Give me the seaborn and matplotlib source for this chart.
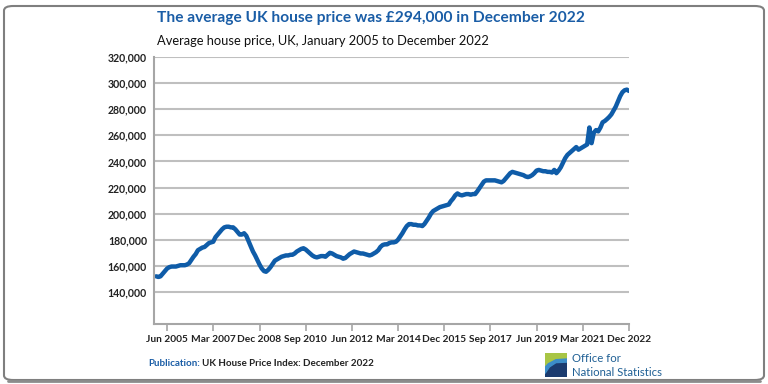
import seaborn as sns
import matplotlib.pyplot as plt
import matplotlib.patches as mpatches
import pandas as pd
import numpy as np


# average UK house price, thousands of pounds, Jan 2005 - Dec 2022 (one row per year)
prices_k = [
    152, 151.5, 152, 154, 156, 158, 159, 159.5, 159.5, 159.5, 160, 160.5,
    160.5, 160.5, 161, 162, 164.5, 167, 169, 172, 173, 174, 174.5, 176,
    177.5, 178, 178.5, 182, 184, 186, 188, 189.5, 190, 190, 189.5, 189.5,
    188, 186, 184, 184, 185, 183, 179, 175, 171, 168, 164.5, 161,
    158, 156, 155.5, 157, 159, 161.5, 164, 165, 166, 167, 167.5, 168,
    168, 168.5, 168.5, 169.5, 171, 172, 173, 173.5, 172.5, 171, 169.5, 168,
    167, 166.5, 167, 167.5, 167.5, 167, 168.5, 170, 169.5, 168.5, 167.5, 167,
    166.5, 165.5, 166, 167.5, 169, 170, 171, 170.5, 170, 169.5, 169.5, 169,
    168.5, 168, 168.5, 169.5, 170.5, 172, 174.5, 176, 176.5, 176.5, 177.5, 178,
    178, 178.5, 180, 182.5, 185, 188, 190.5, 192, 192, 191.5, 191.5, 191,
    191, 190.5, 192, 194.5, 197, 200, 202, 203, 204, 205, 205.5, 206,
    206.5, 207, 209.5, 211.5, 214, 215.5, 214.5, 214, 214.5, 215, 215, 214.5,
    215, 215, 217, 219.5, 222, 224.5, 225.5, 225.5, 225.5, 225.5, 225.5, 225,
    224.5, 224, 225, 227, 229, 231, 232, 231.5, 231, 230.5, 230, 229.5,
    228.5, 228, 228.5, 229.5, 231, 233, 233.5, 233, 232.5, 232.5, 232, 232,
    231.5, 233.5, 231, 233, 235.5, 239, 242.5, 245, 246.5, 248, 249.5, 251,
    249, 250, 251, 252, 253, 266, 254, 262, 264, 263, 266, 270,
    271, 272.5, 274, 276, 279, 282, 286, 290, 293, 294.5, 295, 294,
]
start_month = "2005-01"
tick_labels = ["Jun 2005", "Mar 2007", "Dec 2008", "Sep 2010", "Jun 2012", "Mar 2014",
               "Dec 2015", "Sep 2017", "Jun 2019", "Mar 2021", "Dec 2022"]
y_ticks = [140000, 160000, 180000, 200000, 220000, 240000, 260000, 280000, 300000, 320000]

title = "The average UK house price was £294,000 in December 2022"
subtitle = "Average house price, UK, January 2005 to December 2022"

ONS_BLUE = "#1A5DA6"
LINE_BLUE = "#0F5CA8"
GRID = "#BFBFBF"
AXIS = "#A6A6A6"

df = pd.DataFrame({
    "month": pd.date_range(start_month, periods=len(prices_k), freq="MS"),
    "price": np.array(prices_k) * 1000,
})

sns.set_style("white")
plt.rcParams["font.family"] = ["Lato", "DejaVu Sans"]

fig = plt.figure(figsize=(7.68, 3.84), dpi=100)
ax = fig.add_axes([0.2005, 0.1563, 0.6185, 0.6953])

sns.lineplot(data=df, x="month", y="price", ax=ax, color=LINE_BLUE, linewidth=3.2)

ax.set_xlim(pd.Timestamp("2004-12-01"), df["month"].iloc[-1])
ax.set_ylim(115500, 320000)
ax.set_yticks(y_ticks)
ax.set_yticklabels([f"{v:,}" for v in y_ticks])
tick_dates = pd.to_datetime(tick_labels, format="%b %Y")
ax.set_xticks(tick_dates)
ax.set_xticklabels(tick_labels)
ax.set_xlabel("")
ax.set_ylabel("")

ax.grid(axis="y", color=GRID, linewidth=1.5)
ax.grid(axis="x", visible=False)
ax.set_axisbelow(True)
sns.despine(ax=ax)
for side in ["left", "bottom"]:
    ax.spines[side].set_color(AXIS)
    ax.spines[side].set_linewidth(1.5)

ax.tick_params(axis="y", length=0, pad=5, labelsize=7.6, labelcolor="#222222")
ax.tick_params(axis="x", length=5, width=1.2, color=AXIS, pad=3,
               labelsize=7.3, labelcolor="#222222", bottom=True)
for lbl in ax.get_xticklabels() + ax.get_yticklabels():
    lbl.set_fontweight("bold")

# titles
fig.text(157 / 768, 1 - 18 / 384, title, color=ONS_BLUE, fontsize=11.2,
         fontweight="bold", va="center", ha="left")
fig.text(157 / 768, 1 - 41 / 384, subtitle, color="#111111", fontsize=9.3,
         va="center", ha="left")

# footer
fig.text(148 / 768, 1 - 363 / 384, "Publication:", color=ONS_BLUE, fontsize=7.1,
         fontweight="bold", va="center", ha="left")
fig.text(202 / 768, 1 - 363 / 384, "UK House Price Index: December 2022", color="#222222",
         fontsize=7.1, fontweight="bold", va="center", ha="left")

# ONS logo, roughly
logo = fig.add_axes([545 / 768, 1 - 377 / 384, 22 / 768, 24 / 384])
logo.set_xlim(0, 1)
logo.set_ylim(0, 1)
logo.axis("off")
logo.add_patch(mpatches.Polygon([[0, 0], [1, 0], [1, 1], [0, 1]], color="#1B3B6F"))
logo.add_patch(mpatches.Polygon([[0, 1], [1, 1], [1, 0.75], [0.5, 0.72], [0.15, 0.55], [0, 0.4]],
                                color="#A8C545"))
logo.add_patch(mpatches.Polygon([[0, 0.4], [0.15, 0.55], [0.5, 0.72], [1, 0.75], [1, 0.62],
                                 [0.5, 0.6], [0.2, 0.42], [0, 0.15]],
                                color="#3C8DC9"))
fig.text(572 / 768, 1 - 358 / 384, "Office for", color="#206095", fontsize=8.2,
         va="center", ha="left")
fig.text(572 / 768, 1 - 372 / 384, "National Statistics", color="#206095", fontsize=8.2,
         va="center", ha="left")

# rounded frame around the whole graphic
frame = mpatches.FancyBboxPatch((4 / 768, 4 / 384), 760 / 768, 374 / 384,
                                boxstyle="round,pad=0,rounding_size=0.012",
                                transform=fig.transFigure, fill=False,
                                edgecolor="#7F7F7F", linewidth=1.5)
fig.patches.append(frame)
fig.add_artist(plt.Line2D([8 / 768, 760 / 768], [3 / 384, 3 / 384],
                          transform=fig.transFigure, color="#8C8C8C", linewidth=2))

fig.savefig("out.png", dpi=100)
plt.close(fig)
